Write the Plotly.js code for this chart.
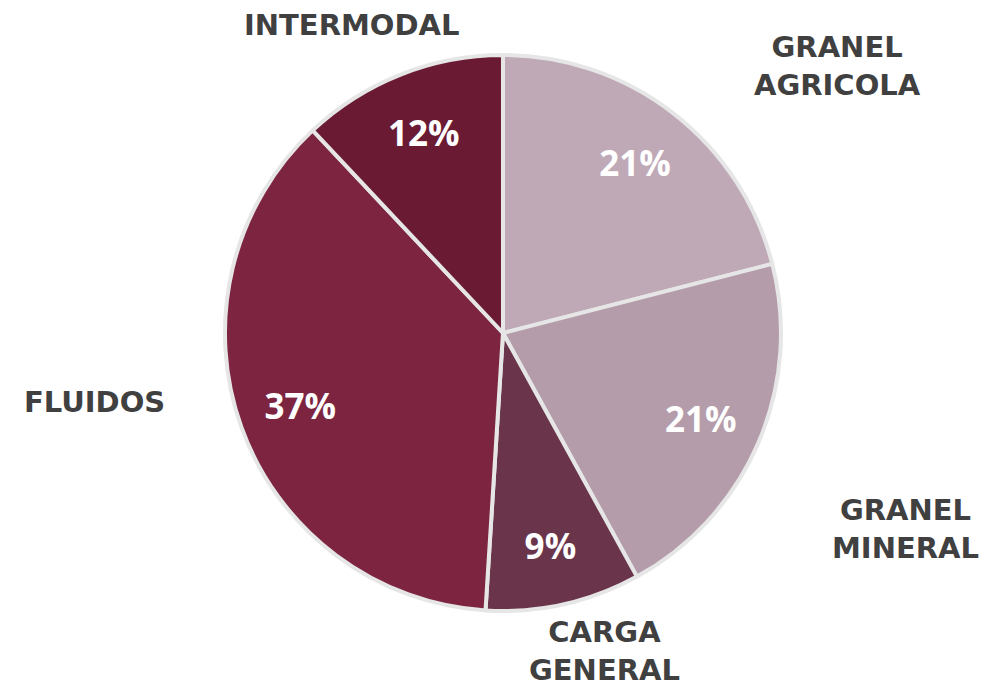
<!DOCTYPE html>
<html>
<head>
<meta charset="utf-8">
<script src="https://cdn.plot.ly/plotly-3.0.1.min.js"></script>
<style>html,body{margin:0;padding:0;background:#fff;}#chart{width:987px;height:689px;}</style>
</head>
<body>
<div id="chart"></div>
<script>
const categories = ["GRANEL AGRICOLA", "GRANEL MINERAL", "CARGA GENERAL", "FLUIDOS", "INTERMODAL"];
const displayLabels = ["GRANEL<br>AGRICOLA", "GRANEL<br>MINERAL", "CARGA<br>GENERAL", "FLUIDOS", "INTERMODAL"];
const shares = [21, 21, 9, 37, 12];
const sliceColors = ["#BFA9B7", "#B49CAA", "#6A344B", "#7D2540", "#6A1B33"];

// label placement (paper coords) for category names outside the pie
const labelX = [0.849, 0.917, 0.612, 0.096, 0.357];
const labelY = [0.980, 0.147, -0.072, 0.376, 1.054];

const annotations = displayLabels.map((t, i) => ({
  text: t, x: labelX[i], y: labelY[i], xref: "paper", yref: "paper",
  xanchor: "center", yanchor: "middle", showarrow: false, align: "center",
  font: {family: "DejaVu Sans", size: 29, color: "#404040", weight: "bold"}
}));

const domain = {x: [0.2096, 0.8096], y: [0, 1]};

const pieTrace = {
  type: "pie",
  labels: categories,
  values: shares,
  sort: false,
  direction: "clockwise",
  rotation: 0,
  marker: {colors: sliceColors, line: {color: "#E6E6E6", width: 4}},
  textinfo: "none",
  domain: domain,
  hoverinfo: "label+percent"
};

// transparent ring overlay carrying the percentage labels further out
const labelTrace = {
  type: "pie",
  labels: categories,
  values: shares,
  sort: false,
  direction: "clockwise",
  rotation: 0,
  hole: 0.55,
  marker: {colors: categories.map(() => "rgba(0,0,0,0)"), line: {width: 0}},
  textinfo: "percent",
  texttemplate: "%{percent:.0%}",
  textposition: "inside",
  insidetextorientation: "horizontal",
  insidetextfont: {family: "Open Sans", size: 35, color: "#FFFFFF", weight: "bold"},
  domain: domain,
  hoverinfo: "skip"
};

const layout = {
  width: 987, height: 689,
  margin: {l: 0, r: 0, t: 55, b: 78},
  showlegend: false,
  paper_bgcolor: "#FFFFFF",
  annotations: annotations
};

Plotly.newPlot("chart", [pieTrace, labelTrace], layout, {displayModeBar: false, staticPlot: true});
</script>
</body>
</html>
